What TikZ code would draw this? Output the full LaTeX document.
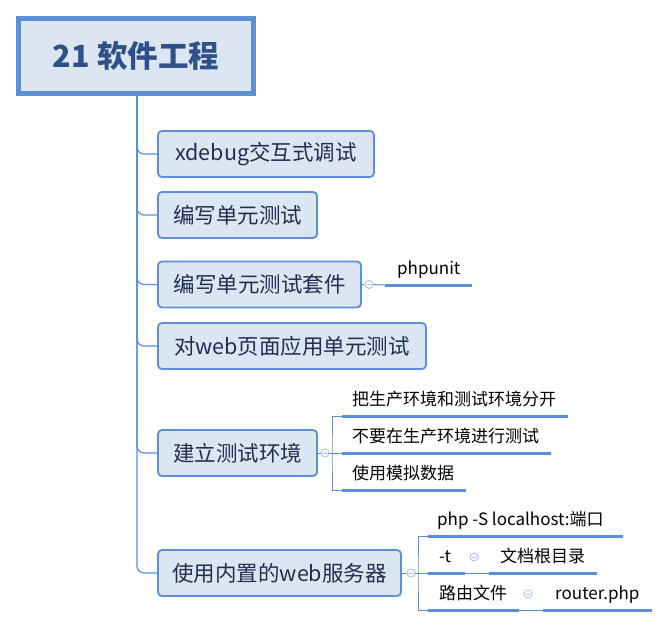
\documentclass[tikz,border=0pt]{standalone}
\usepackage{fontspec}
\setmainfont{Noto Sans CJK SC}
\usetikzlibrary{calc}
\definecolor{lineblue}{HTML}{5B8FD6}
\definecolor{boxfill}{HTML}{DCE6F2}
\definecolor{boxtext}{HTML}{1F2F50}
\definecolor{roottext}{HTML}{2E5189}
\definecolor{togcol}{HTML}{AFC3E6}
\begin{document}
\begin{tikzpicture}[x=1pt,y=-1pt,
 rootbox/.style={draw=lineblue, line width=5pt, fill=boxfill, minimum width=235pt, minimum height=75pt, inner sep=0pt, text=roottext, font=\fontsize{30.5}{34}\selectfont\bfseries},
 topic/.style={draw=lineblue, line width=1.8pt, fill=boxfill, rounded corners=4pt, minimum height=46pt, inner sep=0pt, text=boxtext, font=\fontsize{21.5}{25}\selectfont},
 trunk/.style={draw=lineblue, line width=1.2pt, rounded corners=7pt},
 thin/.style={draw=lineblue, line width=1pt},
 uline/.style={draw=lineblue, line width=3pt},
 lbl/.style={anchor=base west, inner sep=0pt, text=black, font=\fontsize{17}{20}\selectfont},
 tog/.style={circle, draw=togcol, fill=white, line width=0.9pt, minimum size=8pt, inner sep=0pt,
   path picture={\draw[togcol, line width=0.9pt] ([xshift=-2pt]path picture bounding box.center) -- ([xshift=2pt]path picture bounding box.center);}},
]
\useasboundingbox (0,0) rectangle (669,627);

% topics
\node[rootbox] (root) at (136,56) {21 软件工程};
\node[topic, minimum width=216pt] (t1) at (266,154) {xdebug交互式调试};
\node[topic, minimum width=159pt] (t2) at (237.5,215) {编写单元测试};
\node[topic, minimum width=203pt] (t3) at (259.5,284.5) {编写单元测试套件};
\node[topic, minimum width=268pt] (t4) at (292,346) {对web页面应用单元测试};
\node[topic, minimum width=159pt] (t5) at (237.5,453) {建立测试环境};
\node[topic, minimum width=243pt] (t6) at (279.5,573) {使用内置的web服务器};

% trunk
\foreach \t in {t1,t2,t3,t4,t5,t6}
  \draw[trunk] ([xshift=1pt]root.south) |- (\t.west);

% t3 child
\node[tog] (c3) at (369,284.5) {};
\coordinate (p1s) at (385,285);
\coordinate (p1e) at (472,285);
\draw[thin] (t3.east) -- (c3) -- (p1s);
\draw[uline] (p1s) -- (p1e);
\node[lbl] (l1) at ($(p1s)+(12,-11)$) {phpunit};

% t5 children
\node[tog] (c5) at (325,453) {};
\coordinate (b5) at (332,453);
\coordinate (e1s) at (342,416); \coordinate (e1e) at (568,416);
\coordinate (e2s) at (342,453); \coordinate (e2e) at (551,453);
\coordinate (e3s) at (342,490); \coordinate (e3e) at (466,490);
\draw[thin] (t5.east) -- (c5) -- (e2s);
\draw[thin] (e1s) -| (b5) |- (e3s);
\draw[uline] (e1s) -- (e1e);
\draw[uline] (e2s) -- (e2e);
\draw[uline] (e3s) -- (e3e);
\node[lbl] (m1) at ($(e1s)+(10,-11)$) {把生产环境和测试环境分开};
\node[lbl] (m2) at ($(e2s)+(10,-11)$) {不要在生产环境进行测试};
\node[lbl] (m3) at ($(e3s)+(10,-11)$) {使用模拟数据};

% t6 children
\node[tog] (c6) at (411,573) {};
\coordinate (b6) at (418,573);
\coordinate (f1s) at (428,536); \coordinate (f1e) at (623,536);
\coordinate (f2s) at (428,573); \coordinate (f2e) at (465,573);
\coordinate (g2s) at (489,573); \coordinate (g2e) at (597,573);
\coordinate (f3s) at (428,610); \coordinate (f3e) at (519,610);
\coordinate (g3s) at (543,610); \coordinate (g3e) at (652,610);
\draw[thin] (t6.east) -- (c6) -- (f2s);
\draw[thin] (f1s) -| (b6) |- (f3s);
\draw[thin] (f2e) -- (g2s);
\draw[thin] (f3e) -- (g3s);
\draw[uline] (f1s) -- (f1e);
\draw[uline] (f2s) -- (f2e);
\draw[uline] (g2s) -- (g2e);
\draw[uline] (f3s) -- (f3e);
\draw[uline] (g3s) -- (g3e);
\node[tog] (c7) at (474,557) {};
\node[tog] (c8) at (528,594) {};
\node[lbl] (n1) at ($(f1s)+(9,-11)$) {php -S localhost:端口};
\node[lbl] (n2) at ($(f2s)+(11,-11)$) {-t};
\node[lbl] (n3) at ($(g2s)+(11,-11)$) {文档根目录};
\node[lbl] (n4) at ($(f3s)+(11,-11)$) {路由文件};
\node[lbl] (n5) at ($(g3s)+(12,-11)$) {router.php};
\end{tikzpicture}
\end{document}
